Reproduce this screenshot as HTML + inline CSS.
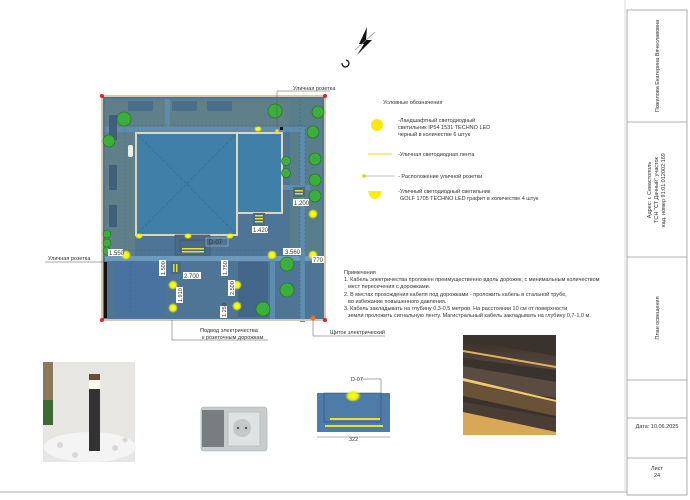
<!DOCTYPE html>
<html><head><meta charset="utf-8"><style>
html,body{margin:0;padding:0;background:#fff;}
svg{display:block;}
text{font-family:"Liberation Sans",sans-serif;fill:#333;}
</style></head><body>
<svg width="690" height="500" viewBox="0 0 690 500" xmlns="http://www.w3.org/2000/svg">
<defs>
<radialGradient id="glow"><stop offset="0" stop-color="#ffff40"/><stop offset="0.6" stop-color="#eef000"/><stop offset="1" stop-color="#eef000" stop-opacity="0"/></radialGradient>
<linearGradient id="wood" x1="0" y1="0" x2="0" y2="1"><stop offset="0" stop-color="#3a302a"/><stop offset="1" stop-color="#5a4a3e"/></linearGradient>
</defs>
<line x1="0" y1="492" x2="627" y2="492" stroke="#aaa" stroke-width="1"/>
<line x1="625" y1="0" x2="625" y2="492" stroke="#ddd" stroke-width="1"/>
<g stroke="#999" stroke-width="0.8" fill="none">
<rect x="627" y="10" width="60" height="485"/>
<line x1="627" y1="122" x2="687" y2="122"/>
<line x1="627" y1="257" x2="687" y2="257"/>
<line x1="627" y1="380" x2="687" y2="380"/>
<line x1="627" y1="418" x2="687" y2="418"/>
<line x1="627" y1="458" x2="687" y2="458"/>
</g>
<g font-size="5.5">
<text transform="translate(659,66) rotate(-90)" text-anchor="middle">Пожилова Екатерина Вячеславовна</text>
<text transform="translate(651,190) rotate(-90)" text-anchor="middle">Адрес: г. Севастополь</text>
<text transform="translate(658,190) rotate(-90)" text-anchor="middle">ТСН "СТ Дачный" участок</text>
<text transform="translate(665,190) rotate(-90)" text-anchor="middle">кад. номер 91:01:012002:169</text>
<text transform="translate(659,318) rotate(-90)" text-anchor="middle">План освещения</text>
<text x="657" y="428" text-anchor="middle">Дата: 10.06.2025</text>
<text x="657" y="470" text-anchor="middle">Лист</text>
<text x="657" y="477" text-anchor="middle">24</text>
</g>
<g>
<path d="M367 27 L359 44 L364 44 L357 55 L372 40 L366 40 Z" fill="#111"/>
<line x1="355" y1="50" x2="375" y2="32" stroke="#888" stroke-width="0.6"/>
<path d="M346 60 A3.5 3.5 0 1 1 342 63" fill="none" stroke="#111" stroke-width="1.3"/>
</g>
<g>
<rect x="102" y="96" width="223" height="224" fill="#4f7596"/>
<rect x="105" y="99" width="217" height="30" fill="#5f8088"/>
<rect x="105" y="99" width="30" height="160" fill="#5f8088"/>
<rect x="290" y="99" width="32" height="160" fill="#587e8a"/>
<rect x="105" y="127" width="200" height="5" fill="#5e8cae"/>
<rect x="165" y="99" width="5" height="30" fill="#5e8cae"/>
<rect x="105" y="256" width="217" height="5" fill="#6b9abd"/>
<rect x="270" y="256" width="5" height="64" fill="#5e8cae"/>
<rect x="270" y="185" width="40" height="5" fill="#5e8cae"/>
<rect x="300" y="132" width="5" height="190" fill="#5e8cae"/>
<rect x="109" y="115" width="8" height="25" fill="#3e607a"/>
<rect x="109" y="165" width="8" height="25" fill="#3e607a"/>
<rect x="109" y="205" width="8" height="22" fill="#3e607a"/>
<rect x="128" y="101" width="25" height="10" fill="#4a6f8c"/>
<rect x="172" y="101" width="25" height="10" fill="#4a6f8c"/>
<rect x="207" y="101" width="25" height="10" fill="#4a6f8c"/>
<rect x="238" y="262" width="30" height="55" fill="#44668a"/>
<rect x="115" y="262" width="50" height="55" fill="#4a72a0"/>
<rect x="104" y="262" width="3" height="56" fill="#111"/>
<g stroke="#3d5d78" stroke-width="0.4" stroke-dasharray="2,2" fill="none">
<rect x="125" y="125" width="180" height="125"/>
<line x1="300" y1="100" x2="300" y2="318"/>
<line x1="130" y1="262" x2="130" y2="318"/>
</g>
<rect x="136" y="133" width="101" height="102" fill="#3f7fa8" stroke="#e0d4b8" stroke-width="2"/>
<g stroke="#2a5a7a" stroke-width="0.5" stroke-dasharray="3,2"><line x1="138" y1="135" x2="235" y2="233"/><line x1="235" y1="135" x2="138" y2="233"/></g>
<rect x="237" y="133" width="45" height="80" fill="#3f7fa8" stroke="#e0d4b8" stroke-width="2"/>
<rect x="175" y="235" width="35" height="20" fill="#4a6a88" stroke="#2e4e68" stroke-width="0.5"/>
<rect x="180" y="240" width="25" height="12" fill="none" stroke="#2e4e68" stroke-width="0.5"/>
<rect x="182" y="248" width="22" height="1.5" fill="#e8e020"/><rect x="182" y="251" width="22" height="1.5" fill="#e8e020"/>
<rect x="253" y="213" width="12" height="12" fill="#4a6a88"/>
<rect x="255" y="215" width="8" height="1.5" fill="#e8e020"/><rect x="255" y="218" width="8" height="1.5" fill="#e8e020"/><rect x="255" y="221" width="8" height="1.5" fill="#e8e020"/>
<rect x="293" y="187" width="12" height="10" fill="#4a6a88"/>
<rect x="295" y="190" width="8" height="1.5" fill="#e8e020"/><rect x="295" y="193" width="8" height="1.5" fill="#e8e020"/>
<rect x="171" y="262" width="10" height="12" fill="#4a6a88"/>
<rect x="173" y="264" width="1.5" height="8" fill="#e8e020"/><rect x="176" y="264" width="1.5" height="8" fill="#e8e020"/>
<rect x="102" y="96" width="223" height="224" fill="none" stroke="#d8c8b0" stroke-width="2"/>
<g fill="#e02020">
<circle cx="102" cy="96" r="2"/><circle cx="325" cy="96" r="2"/><circle cx="102" cy="320" r="2"/><circle cx="325" cy="320" r="2"/>
</g>
<circle cx="313" cy="318" r="2.5" fill="#f07020"/>
<g fill="#3cae3c" stroke="#1e6e1e" stroke-width="0.6">
<circle cx="124" cy="119" r="7"/><circle cx="109" cy="141" r="6"/><circle cx="275" cy="111" r="7"/>
<circle cx="318" cy="112" r="6"/><circle cx="313" cy="132" r="6"/><circle cx="315" cy="159" r="6"/>
<circle cx="315" cy="180" r="6"/><circle cx="315" cy="196" r="6"/><circle cx="286" cy="161" r="4.5"/><circle cx="286" cy="173" r="4.5"/>
<circle cx="287" cy="264" r="7"/><circle cx="287" cy="290" r="7"/><circle cx="263" cy="309" r="7"/>
<circle cx="107" cy="234" r="4"/><circle cx="107" cy="243" r="4"/><circle cx="107" cy="251" r="4"/>
</g>
<rect x="128" y="145" width="5" height="12" fill="#e8f0e8" rx="2"/>
<g fill="url(#glow)">
<circle cx="126" cy="255" r="5"/><circle cx="272" cy="255" r="5"/><circle cx="313" cy="255" r="5"/>
<circle cx="313" cy="214" r="5"/><circle cx="237" cy="285" r="5"/><circle cx="237" cy="306" r="5"/>
<circle cx="173" cy="285" r="5"/><circle cx="173" cy="308" r="5"/>
<ellipse cx="139" cy="236" rx="4" ry="3"/><ellipse cx="188" cy="236" rx="4" ry="3"/><ellipse cx="230" cy="236" rx="4" ry="3"/><ellipse cx="258" cy="129" rx="4" ry="3"/>
</g>
<circle cx="277" cy="131" r="1.8" fill="#e8e020"/><rect x="280" y="127" width="3" height="3" fill="#111"/>
<g font-size="6" fill="#222">
<rect x="108" y="249" width="15" height="7" fill="#fff"/><text x="109" y="255">1.550</text>
<rect x="283" y="248" width="18" height="7" fill="#fff"/><text x="285" y="254">3.560</text>
<rect x="312" y="256" width="12" height="7" fill="#fff"/><text x="313" y="262">770</text>
<rect x="252" y="226" width="16" height="7" fill="#fff"/><text x="253" y="232">1.420</text>
<rect x="293" y="199" width="16" height="7" fill="#fff"/><text x="294" y="205">1.200</text>
<rect x="183" y="272" width="18" height="7" fill="#fff"/><text x="184" y="278">2.700</text>
<rect x="206" y="238" width="22" height="8" fill="none" stroke="#ccc" stroke-width="0.5"/><text x="209" y="244" fill="#ddd">D-07</text>
</g>
<g font-size="5.5" fill="#222">
<rect x="159" y="260" width="7" height="16" fill="#fff"/><text transform="translate(165,275) rotate(-90)">1.500</text>
<rect x="221" y="260" width="7" height="16" fill="#fff"/><text transform="translate(227,275) rotate(-90)">1.750</text>
<rect x="176" y="287" width="7" height="16" fill="#fff"/><text transform="translate(182,302) rotate(-90)">1.910</text>
<rect x="228" y="280" width="7" height="16" fill="#fff"/><text transform="translate(234,295) rotate(-90)">2.500</text>
<rect x="220" y="306" width="7" height="12" fill="#fff"/><text transform="translate(226,317) rotate(-90)">1.250</text>
</g>
</g>
<g stroke="#555" stroke-width="0.5" fill="none">
<polyline points="277,128 277,91 330,91"/>
<line x1="45" y1="262" x2="104" y2="262"/>
<polyline points="172,320 172,340 268,340"/>
<polyline points="313,320 313,336 385,336"/>
</g>
<g font-size="5.5">
<text x="293" y="90">Уличная розетка</text>
<text x="48" y="260">Уличная розетка</text>
<text x="200" y="332">Подвод электричества</text>
<text x="202" y="339">к розеточным дорожкам</text>
<text x="330" y="334">Щиток электрический</text>
</g>
<g font-size="5.5">
<text x="383" y="104">Условные обозначения</text>
<circle cx="377" cy="125" r="6" fill="#f8e810"/>
<text x="398" y="122">-Ландшафтный светодиодный</text>
<text x="398" y="129">светильник IP54 1531 TECHNO LED</text>
<text x="398" y="136">черный в количестве 6 штук</text>
<line x1="368" y1="154" x2="392" y2="154" stroke="#f0e040" stroke-width="1.2"/>
<text x="398" y="156">-Уличная светодиодная лента</text>
<circle cx="364" cy="176" r="2" fill="#f0e020"/>
<line x1="364" y1="176" x2="395" y2="176" stroke="#888" stroke-width="0.6"/>
<text x="398" y="178">- Расположение уличной розетки</text>
<path d="M368 191 L382 191 Q380 199 375 199 Q370 199 368 191 Z" fill="#f8f000"/>
<text x="398" y="193">-Уличный светодиодный светильник</text>
<text x="400" y="200">GOLF 1705 TECHNO LED графит в количестве 4 штук</text>
<text x="344" y="274">Примечания</text>
<text x="344" y="281">1. Кабель электричества проложен преимущественно вдоль дорожек, с минимальным количеством</text>
<text x="348" y="288">мест пересечения с дорожками.</text>
<text x="344" y="296">2. В местах прохождения кабеля под дорожками - проложить кабель в стальной трубе,</text>
<text x="348" y="303">во избежание повышенного давления.</text>
<text x="344" y="310">3. Кабель закладывать на глубину 0,3-0,5 метров. На расстоянии 10 см от поверхности</text>
<text x="348" y="317">земли проложить сигнальную ленту. Магистральный кабель закладывать на глубину 0,7-1,0 м.</text>
</g>
<rect x="43" y="362" width="92" height="100" fill="#e8e6e2"/>
<rect x="43" y="362" width="10" height="60" fill="#8a7a5a"/>
<rect x="43" y="400" width="10" height="25" fill="#3c6a30"/>
<ellipse cx="90" cy="447" rx="46" ry="15" fill="#f4f4f4"/>
<g fill="#d8d8d8"><circle cx="60" cy="445" r="3"/><circle cx="115" cy="448" r="3"/><circle cx="75" cy="455" r="3"/><circle cx="125" cy="440" r="2.5"/></g>
<rect x="89" y="374" width="11" height="6" fill="#6a4a38"/>
<rect x="89" y="380" width="11" height="9" fill="#fffaf0"/>
<rect x="89" y="389" width="11" height="62" fill="#333"/>
<rect x="201" y="407" width="66" height="44" rx="3" fill="#c8cccc" stroke="#9aa" stroke-width="0.6"/>
<rect x="202" y="410" width="22" height="37" fill="#777d80"/>
<rect x="228" y="412" width="32" height="34" fill="#dfe2e2" stroke="#aaa" stroke-width="0.5"/>
<circle cx="242" cy="428" r="9" fill="#c4c8c8"/>
<circle cx="238" cy="428" r="1.2" fill="#555"/><circle cx="246" cy="428" r="1.2" fill="#555"/>
<text x="351" y="381" font-size="5.5">D-07</text>
<polyline points="363,379 381,379 381,397" fill="none" stroke="#555" stroke-width="0.5"/>
<rect x="317" y="393" width="73" height="39" fill="#4f7ba8"/>
<rect x="324" y="393" width="57" height="29" fill="none" stroke="#2c4a68" stroke-width="0.5"/>
<ellipse cx="353" cy="396" rx="8" ry="6" fill="url(#glow)"/>
<rect x="330" y="418" width="50" height="2" fill="#e8e020"/>
<rect x="325" y="425" width="58" height="2" fill="#e8e020"/>
<line x1="317" y1="437" x2="390" y2="437" stroke="#666" stroke-width="0.5"/>
<text x="349" y="441" font-size="5.5">322</text>
<rect x="463" y="335" width="93" height="100" fill="#3a322c"/>
<g>
<polygon points="463,340 556,356 556,370 463,358" fill="url(#wood)"/>
<polygon points="463,350 556,366 556,368 463,352" fill="#e0b060"/>
<polygon points="463,366 556,382 556,398 463,384" fill="#5a4c40"/>
<polygon points="463,378 556,400 556,402 463,381" fill="#f0c870"/>
<polygon points="463,382 556,402 556,416 463,396" fill="#6a5238"/>
<polygon points="463,402 556,418 556,432 463,418" fill="#4a3e34"/>
<polygon points="463,412 556,432 556,435 463,435" fill="#d8a858"/>
</g>
</svg>
</body></html>
